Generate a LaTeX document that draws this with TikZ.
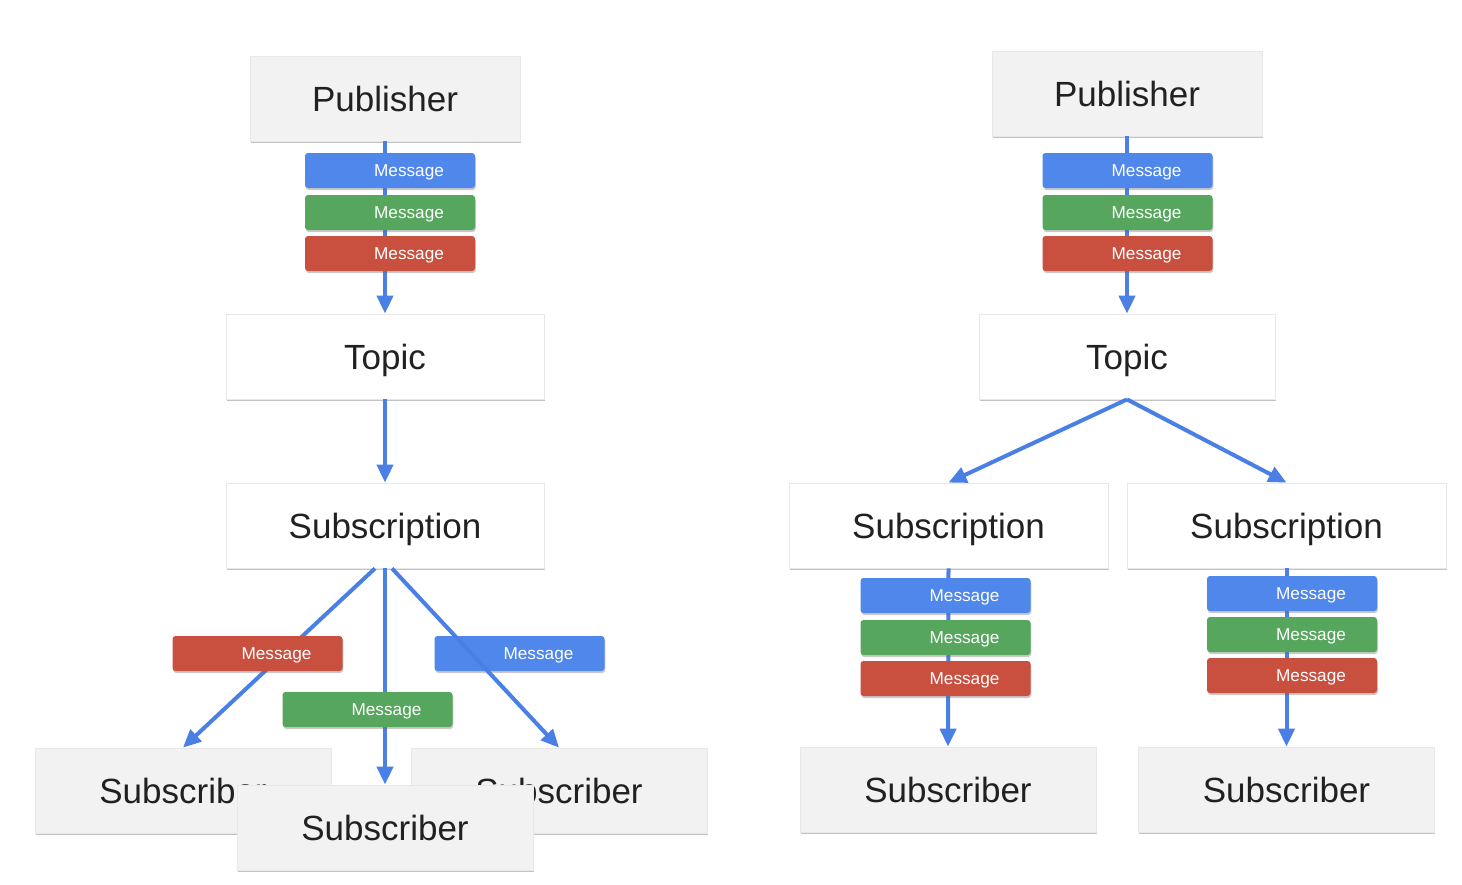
\documentclass[tikz,border=0pt]{standalone}
\usepackage{fontspec}
\setmainfont{Liberation Sans}
\usepackage{xcolor}
\usepackage{tikz}
\usetikzlibrary{positioning,arrows.meta,shadows}

\definecolor{boxgrey}{HTML}{F2F2F2}
\definecolor{textdark}{HTML}{212121}
\definecolor{flowblue}{HTML}{4A7FE6}
\definecolor{msgblue}{HTML}{4F87EA}
\definecolor{msggreen}{HTML}{57A65E}
\definecolor{msgred}{HTML}{C9503F}

\tikzset{
  box/.style={fill=boxgrey, draw=black!9, line width=0.4pt, text=textdark,
    minimum width=#1, minimum height=42.5pt, inner sep=0pt,
    text height=12.6pt, text depth=0pt, font=\fontsize{17.5}{20}\selectfont,
    drop shadow={shadow xshift=0.4pt, shadow yshift=-1.1pt, opacity=0.4, fill=black!60}},
  box/.default=148pt,
  whitebox/.style={box=#1, fill=white},
  msg/.style={fill=#1, text=white, minimum width=85pt, minimum height=17.5pt,
    inner sep=0pt, rounded corners=1.5pt, text height=6.2pt, text depth=0pt,
    font=\fontsize{8.6}{10}\selectfont,
    drop shadow={shadow xshift=0.4pt, shadow yshift=-1pt, opacity=0.35, fill=black!60}},
  flow/.style={draw=flowblue, line width=2pt, -{Triangle[width=8pt,length=9pt]}},
}
\newcommand{\msgtext}{\hspace*{19pt}Message}

\begin{document}
\begin{tikzpicture}[x=0.5pt, y=-0.5pt]
      \useasboundingbox (0,0) rectangle (1462,884);
      % one subscription, three subscribers
      \node[box=135pt] (pubL) at (385,98.5) {Publisher};
      \node[whitebox=159pt] (topicL) at (385,356.5) {Topic};
      \node[whitebox=159pt] (subnL) at (385,525.5) {Subscription};
      \node[box] (subL1) at (183,790.5) {Subscriber};
      \node[box] (subL3) at (559,790.5) {Subscriber};
      \node[box] (subL2) at (385,827.5) {Subscriber};
      \node[msg=msgblue] (mL3) at (519.5,653.5) {\msgtext};
      \draw[flow] (pubL.south) -- (topicL.north);
      \draw[flow] (topicL.south) -- (subnL.north);
      \draw[flow] ([xshift=-5pt]subnL.south) -- (subL1.north);
      \draw[flow] (subnL.south) -- (subL2.north);
      \draw[flow] ([xshift=3.5pt]subnL.south) -- (subL3.north);
      \node[msg=msgblue] at (390,170.5) {\msgtext};
      \node[msg=msggreen] at (390,212.5) {\msgtext};
      \node[msg=msgred] at (390,253.5) {\msgtext};
      \node[msg=msgred] (mL1) at (257.5,653.5) {\msgtext};
      \node[msg=msggreen] (mL2) at (367.5,709.5) {\msgtext};

      % two subscriptions, one subscriber each
      \node[box=135pt] (pubR) at (1127,93.5) {Publisher};
      \node[whitebox=148pt] (topicR) at (1127,356.5) {Topic};
      \node[whitebox=159.5pt] (subnR1) at (948.5,525.5) {Subscription};
      \node[whitebox=159.5pt] (subnR2) at (1286.5,525.5) {Subscription};
      \node[box] (subR1) at (948,789.5) {Subscriber};
      \node[box] (subR2) at (1286.5,789.5) {Subscriber};
      \draw[flow] (pubR.south) -- (topicR.north);
      \draw[flow] (topicR.south) -- (subnR1.north);
      \draw[flow] (topicR.south) -- (subnR2.north);
      \draw[flow] (subnR1.south) -- (subR1.north);
      \draw[flow] (subnR2.south) -- (subR2.north);
      \node[msg=msgblue] at (1127.5,170.5) {\msgtext};
      \node[msg=msggreen] at (1127.5,212.5) {\msgtext};
      \node[msg=msgred] at (1127.5,253.5) {\msgtext};
      \node[msg=msgblue] at (945.5,595.5) {\msgtext};
      \node[msg=msggreen] at (945.5,637.5) {\msgtext};
      \node[msg=msgred] at (945.5,678.5) {\msgtext};
      \node[msg=msgblue] at (1292,593.5) {\msgtext};
      \node[msg=msggreen] at (1292,634.5) {\msgtext};
      \node[msg=msgred] at (1292,675.5) {\msgtext};
    \end{tikzpicture}
\end{document}
